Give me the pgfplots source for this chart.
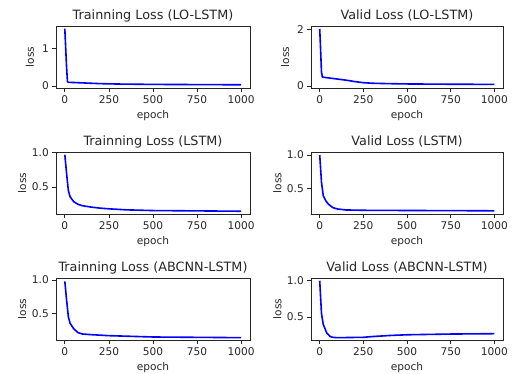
\documentclass[border=0pt]{standalone}
\usepackage{fontspec}
\setmainfont{DejaVu Sans}
\usepackage{pgfplots}
\pgfplotsset{compat=1.18}
\definecolor{spine}{HTML}{262626}
\pgfplotsset{
  panel/.style={
    scale only axis, width=193pt, height=62pt,
    xmin=-50, xmax=1050,
    xtick={0,250,500,750,1000}, xticklabels={0,250,500,750,1000},
    tick align=outside, major tick length=3.7pt, tick pos=left,
    axis line style={spine, line width=0.8pt},
    every tick/.style={spine, line width=0.8pt},
    ticklabel style={font=\fontsize{10.6}{12}\selectfont, text=spine},
    /pgf/number format/assume math mode=true,
    xlabel=epoch, ylabel=loss,
    label style={font=\fontsize{10.6}{12}\selectfont, text=spine},
    xlabel style={at={(axis description cs:0.5,-0.45)}, anchor=center},
    every axis title shift=0pt,
    title style={font=\fontsize{12.8}{14}\selectfont, text=spine, at={(axis description cs:0.5,1)}, anchor=base, yshift=6.4pt},
    every axis plot/.append style={color=blue, line width=1.6pt, no markers, line join=round},
  },
  rowone/.style={ylabel style={at={(axis description cs:-0.135,0.5)}, anchor=center}},
  rowtwo/.style={ylabel style={at={(axis description cs:-0.175,0.5)}, anchor=center}, ytick={0.5,1.0}, yticklabels={0.5,1.0}},
}
\begin{document}
\begin{tikzpicture}
\useasboundingbox (0,0) rectangle (515pt,374pt);
% Row 1 left
\begin{axis}[panel, rowone, at={(56pt,286pt)}, anchor=south west, width=194pt,
  title={Trainning Loss (LO-LSTM)}, ymin=-0.05, ymax=1.59, ytick={0,1}, yticklabels={0,1}]
\addplot coordinates {(0,1.52) (5,1.0) (10,0.5) (15,0.12) (20,0.1) (50,0.095) (100,0.085) (200,0.065) (300,0.055) (400,0.05) (500,0.045) (750,0.04) (1000,0.035)};
\end{axis}
% Row 1 right
\begin{axis}[panel, rowone, at={(311pt,286pt)}, anchor=south west, width=192pt,
  title={Valid Loss (LO-LSTM)}, ymin=-0.069, ymax=2.137, ytick={0,2}, yticklabels={0,2}]
\addplot coordinates {(0,2.03) (5,1.3) (10,0.5) (15,0.32) (50,0.29) (100,0.25) (150,0.21) (200,0.16) (250,0.12) (300,0.1) (400,0.085) (500,0.075) (750,0.065) (1000,0.06)};
\end{axis}
% Row 2 left
\begin{axis}[panel, rowtwo, at={(56pt,160pt)}, anchor=south west, width=194pt,
  title={Trainning Loss (LSTM)}, ymin=0.11, ymax=1.01]
\addplot coordinates {(0,0.97) (10,0.7) (20,0.45) (30,0.36) (50,0.29) (75,0.25) (100,0.23) (150,0.21) (200,0.195) (250,0.185) (350,0.17) (500,0.16) (750,0.155) (1000,0.15)};
\end{axis}
% Row 2 right
\begin{axis}[panel, rowtwo, at={(311pt,160pt)}, anchor=south west, width=192pt,
  title={Valid Loss (LSTM)}, ymin=0.125, ymax=1.045]
\addplot coordinates {(0,1.0) (10,0.6) (20,0.4) (35,0.32) (50,0.27) (75,0.22) (100,0.2) (150,0.185) (250,0.18) (500,0.177) (750,0.175) (1000,0.172)};
\end{axis}
% Row 3 left
\begin{axis}[panel, rowtwo, at={(56pt,34pt)}, anchor=south west, width=194pt,
  title={Trainning Loss (ABCNN-LSTM)}, ymin=0.10, ymax=1.03]
\addplot coordinates {(0,0.98) (10,0.7) (20,0.45) (30,0.35) (50,0.27) (75,0.21) (100,0.19) (150,0.18) (250,0.165) (500,0.145) (750,0.14) (1000,0.135)};
\end{axis}
% Row 3 right
\begin{axis}[panel, rowtwo, at={(311pt,34pt)}, anchor=south west, width=192pt,
  title={Valid Loss (ABCNN-LSTM)}, ymin=0.183, ymax=1.038]
\addplot coordinates {(0,1.0) (10,0.55) (20,0.4) (40,0.28) (60,0.23) (75,0.22) (100,0.215) (250,0.22) (300,0.23) (400,0.245) (500,0.255) (750,0.265) (1000,0.27)};
\end{axis}
\end{tikzpicture}
\end{document}
